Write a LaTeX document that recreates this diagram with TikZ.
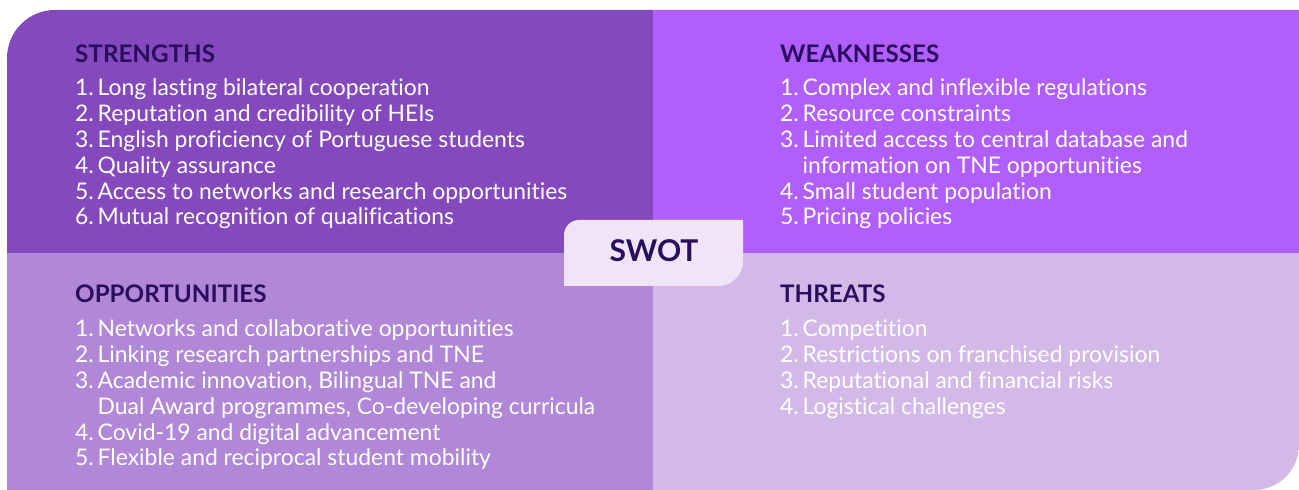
\documentclass[tikz,border=0pt]{standalone}
\usepackage{fontspec}
\setmainfont{Lato}[Ligatures={NoCommon}]
\definecolor{cTL}{HTML}{8549BE}
\definecolor{cTR}{HTML}{B15EFE}
\definecolor{cBL}{HTML}{B088D7}
\definecolor{cBR}{HTML}{D3B9E8}
\definecolor{cBox}{HTML}{EFE5F7}
\definecolor{cDark}{HTML}{2B0D5E}
\newcommand{\nm}[1]{\makebox[22.5pt][l]{#1}}
\tikzset{
  title/.style={anchor=base west, inner sep=0pt, text=cDark, font=\fontsize{24.2}{25}\selectfont\bfseries},
  item/.style={anchor=base west, inner sep=0pt, text=white, font=\fontsize{22.9}{23}\selectfont},
}
\begin{document}
\begin{tikzpicture}[x=1pt,y=1pt]
\useasboundingbox (0,0) rectangle (1299,490);
\begin{scope}
\clip (7,0) -- (7,432) arc[start angle=180,end angle=90,radius=48] -- (1299,480) -- (1299,45) arc[start angle=0,end angle=-90,radius=45] -- cycle;
\fill[cTL] (0,237) rectangle (653,490);
\fill[cTR] (653,237) rectangle (1299,490);
\fill[cBL] (0,0) rectangle (653,237);
\fill[cBR] (653,0) rectangle (1299,237);
\end{scope}
\fill[cBox] (564,204) -- (564,255) arc[start angle=180,end angle=90,radius=15] -- (743,270) -- (743,229) arc[start angle=0,end angle=-90,radius=25] -- cycle;
\node[inner sep=0pt, text=cDark, font=\fontsize{30}{30}\selectfont\bfseries] (swot) at (654,239) {SWOT};
% Strengths
\node[title] (st) at (75,427) {STRENGTHS};
\node[item] (s1) at (75,394) {\nm{1.}Long lasting bilateral cooperation};
\node[item] (s2) at (75,368.2) {\nm{2.}Reputation and credibility of HEIs};
\node[item] (s3) at (75,342.4) {\nm{3.}English proficiency of Portuguese students};
\node[item] (s4) at (75,316.6) {\nm{4.}Quality assurance};
\node[item] (s5) at (75,290.8) {\nm{5.}Access to networks and research opportunities};
\node[item] (s6) at (75,265) {\nm{6.}Mutual recognition of qualifications};
% Weaknesses
\node[title] (wt) at (780,427) {WEAKNESSES};
\node[item] (w1) at (780,394) {\nm{1.}Complex and inflexible regulations};
\node[item] (w2) at (780,368.2) {\nm{2.}Resource constraints};
\node[item] (w3) at (780,342.4) {\nm{3.}Limited access to central database and};
\node[item] (w3b) at (780,316.6) {\nm{}information on TNE opportunities};
\node[item] (w4) at (780,290.8) {\nm{4.}Small student population};
\node[item] (w5) at (780,265) {\nm{5.}Pricing policies};
% Opportunities
\node[title] (ot) at (75,187) {OPPORTUNITIES};
\node[item] (o1) at (75,153) {\nm{1.}Networks and collaborative opportunities};
\node[item] (o2) at (75,127.2) {\nm{2.}Linking research partnerships and TNE};
\node[item] (o3) at (75,101.4) {\nm{3.}Academic innovation, Bilingual TNE and};
\node[item] (o3b) at (75,75.6) {\nm{}Dual Award programmes, Co-developing curricula};
\node[item] (o4) at (75,49.8) {\nm{4.}Covid-19 and digital advancement};
\node[item] (o5) at (75,24) {\nm{5.}Flexible and reciprocal student mobility};
% Threats
\node[title] (tt) at (780,187) {THREATS};
\node[item] (t1) at (780,153) {\nm{1.}Competition};
\node[item] (t2) at (780,127.2) {\nm{2.}Restrictions on franchised provision};
\node[item] (t3) at (780,101.4) {\nm{3.}Reputational and financial risks};
\node[item] (t4) at (780,75.6) {\nm{4.}Logistical challenges};
\end{tikzpicture}
\end{document}
